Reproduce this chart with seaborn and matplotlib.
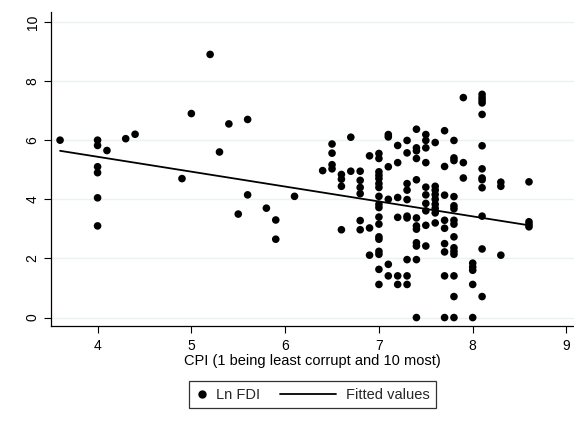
import matplotlib
matplotlib.use("Agg")
import matplotlib.pyplot as plt
import seaborn as sns
import pandas as pd
from matplotlib.lines import Line2D
from matplotlib.legend_handler import HandlerBase

# ---- data (CPI column -> Ln FDI values) ----
cpi_3_6 = [6.0]
cpi_4_0 = [6.0, 5.82, 5.1, 4.9, 4.05, 3.1]
cpi_4_1 = [5.65]
cpi_4_3 = [6.05]
cpi_4_4 = [6.2]
cpi_4_9 = [4.7]
cpi_5_0 = [6.9]
cpi_5_2 = [8.9]
cpi_5_3 = [5.6]
cpi_5_4 = [6.55]
cpi_5_5 = [3.5]
cpi_5_6 = [6.7, 4.15]
cpi_5_8 = [3.7]
cpi_5_9 = [3.3, 2.65]
cpi_6_1 = [4.1]
cpi_6_4 = [4.97]
cpi_6_5 = [5.87, 5.56, 5.17, 5.03]
cpi_6_6 = [4.84, 4.68, 4.44, 2.97]
cpi_6_7 = [6.1, 4.95]
cpi_6_8 = [4.95, 4.64, 4.4, 4.19, 3.28, 2.97]
cpi_6_9 = [5.47, 3.03, 2.11]
cpi_7_0 = [5.55, 5.38, 4.93, 4.81, 4.7, 4.53, 4.4, 4.1, 3.83, 3.72, 3.4, 3.16,
           2.73, 2.65, 2.24, 2.14, 1.63, 1.12]
cpi_7_1 = [6.19, 6.11, 5.1, 4.0, 1.8, 1.41]
cpi_7_2 = [5.82, 5.24, 4.06, 3.39, 1.41, 1.12]
cpi_7_3 = [5.99, 5.57, 4.53, 4.31, 3.99, 3.43, 3.37, 1.96, 1.41, 1.12]
cpi_7_4 = [6.37, 5.74, 5.64, 5.38, 4.66, 3.37, 3.1, 2.99, 2.53, 2.42, 1.96, 0.0]
cpi_7_5 = [6.19, 5.99, 5.74, 5.24, 4.41, 4.15, 3.86, 3.61, 3.12, 2.42]
cpi_7_6 = [5.92, 4.44, 4.31, 4.16, 4.0, 3.83, 3.69, 3.54, 3.2]
cpi_7_7 = [6.32, 5.11, 4.14, 3.29, 3.02, 2.5, 2.22, 1.41, 0.0]
cpi_7_8 = [5.99, 5.4, 5.31, 4.09, 3.78, 3.68, 3.29, 3.16, 2.73, 2.36, 2.24, 2.14,
           1.41, 0.71, 0.0]
cpi_7_9 = [7.44, 5.24, 4.72]
cpi_8_0 = [1.84, 1.71, 1.6, 1.12, 0.0]
cpi_8_1 = [7.55, 7.44, 7.35, 7.26, 6.87, 5.81, 5.03, 4.72, 4.66, 4.39, 3.43, 2.32, 0.71]
cpi_8_3 = [4.58, 4.44, 2.11]
cpi_8_6 = [4.59, 3.24, 3.15, 3.07]

# fitted values line
fit_cpi = [3.6, 8.6]
fit_values = [5.64, 3.12]

columns = {
    3.6: cpi_3_6, 4.0: cpi_4_0, 4.1: cpi_4_1, 4.3: cpi_4_3, 4.4: cpi_4_4,
    4.9: cpi_4_9, 5.0: cpi_5_0, 5.2: cpi_5_2, 5.3: cpi_5_3, 5.4: cpi_5_4,
    5.5: cpi_5_5, 5.6: cpi_5_6, 5.8: cpi_5_8, 5.9: cpi_5_9, 6.1: cpi_6_1,
    6.4: cpi_6_4, 6.5: cpi_6_5, 6.6: cpi_6_6, 6.7: cpi_6_7, 6.8: cpi_6_8,
    6.9: cpi_6_9, 7.0: cpi_7_0, 7.1: cpi_7_1, 7.2: cpi_7_2, 7.3: cpi_7_3,
    7.4: cpi_7_4, 7.5: cpi_7_5, 7.6: cpi_7_6, 7.7: cpi_7_7, 7.8: cpi_7_8,
    7.9: cpi_7_9, 8.0: cpi_8_0, 8.1: cpi_8_1, 8.3: cpi_8_3, 8.6: cpi_8_6,
}
rows = [(c, v) for c, vals in columns.items() for v in vals]
df = pd.DataFrame(rows, columns=["CPI", "LnFDI"])
fit_df = pd.DataFrame({"CPI": fit_cpi, "Fitted": fit_values})

x_ticks = [4, 5, 6, 7, 8, 9]
y_ticks = [0, 2, 4, 6, 8, 10]
x_label = "CPI (1 being least corrupt and 10 most)"
legend_labels = ["Ln FDI", "Fitted values"]

# ---- plot ----
sns.set_theme(style="white")
plt.rcParams["font.family"] = ["Liberation Sans", "DejaVu Sans"]

fig = plt.figure(figsize=(5.74, 4.23), dpi=100)
ax = fig.add_axes([0.0883, 0.229, 0.9117, 0.743])

sns.scatterplot(data=df, x="CPI", y="LnFDI", ax=ax, color="black", s=30,
                edgecolor="none", zorder=3, legend=False)
sns.lineplot(data=fit_df, x="CPI", y="Fitted", ax=ax, color="black",
             linewidth=1.3, zorder=4, legend=False)

ax.set_xlim(3.5, 9.08)
ax.set_ylim(-0.29, 10.34)
ax.set_xticks(x_ticks)
ax.set_yticks(y_ticks)
ax.set_yticklabels([str(t) for t in y_ticks], rotation=90, va="center")
ax.tick_params(axis="both", which="major", direction="out", length=5, width=0.8,
               color="black", labelsize=10, labelcolor="black", pad=3,
               bottom=True, left=True)
ax.tick_params(axis="x", pad=4)
ax.grid(axis="y", color="#eaf2f3", linewidth=1.0)
ax.grid(axis="x", visible=False)
for side in ["top", "right"]:
    ax.spines[side].set_visible(False)
for side in ["left", "bottom"]:
    ax.spines[side].set_color("black")
    ax.spines[side].set_linewidth(0.9)
ax.set_xlabel(x_label, fontsize=10.5, color="black", labelpad=1)
ax.set_ylabel("")


class LongLineHandler(HandlerBase):
    """Line handle that extends to the left of its (short) handle box."""
    def create_artists(self, legend, orig_handle, xdescent, ydescent, width,
                       height, fontsize, trans):
        y = height / 2 - ydescent
        x1 = width - xdescent - 0.25 * fontsize
        x0 = x1 - 3.85 * fontsize
        line = Line2D([x0, x1], [y, y], color="black", linewidth=1.3)
        line.set_transform(trans)
        return [line]


marker_handle = Line2D([], [], marker="o", color="black", linestyle="none", markersize=5)
line_handle = Line2D([], [], color="black", linewidth=1.3)
leg = fig.legend([marker_handle, line_handle], legend_labels, loc="center",
                 bbox_to_anchor=(0.544, 0.067), ncol=2, frameon=True,
                 fancybox=False, fontsize=10.5, handlelength=1.0,
                 handletextpad=0.4, columnspacing=4.5, borderpad=0.45,
                 handler_map={line_handle: LongLineHandler()})
leg.get_frame().set_edgecolor("black")
leg.get_frame().set_linewidth(0.9)

fig.savefig("out.png", dpi=100, facecolor="white")
